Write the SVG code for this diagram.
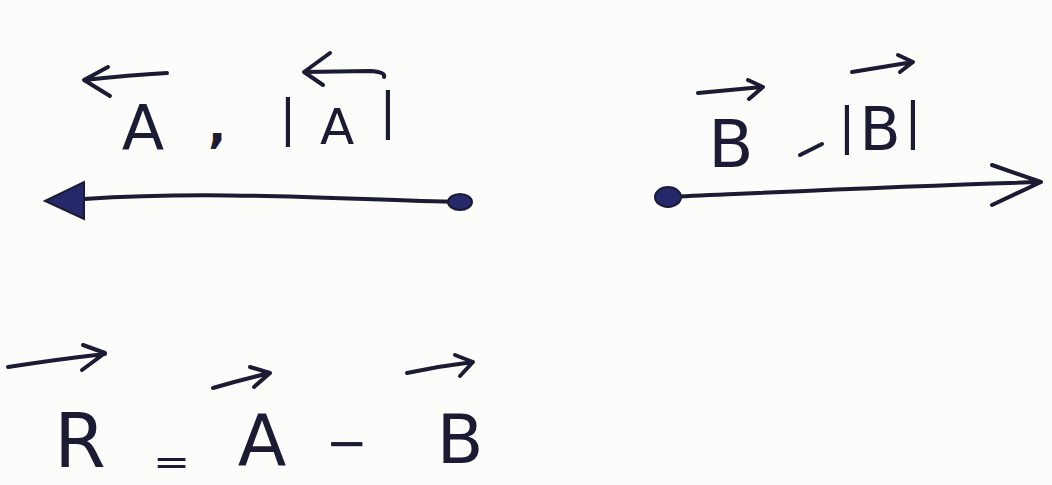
<svg xmlns="http://www.w3.org/2000/svg" width="1052" height="485" viewBox="0 0 1052 485">
<style>
.ink{fill:#1b1b33;font-family:"DejaVu Sans",sans-serif}
.st{fill:none;stroke:#1b1b33;stroke-width:4;stroke-linecap:round;stroke-linejoin:round}
.blue{fill:#26286a;stroke:#1b1b33;stroke-width:2}
</style>
<rect width="1052" height="485" fill="#fcfcfb"/>
<g id="vector-A">
  <path class="st" d="M167,73 Q130,75 84,80 M108,67 L84,80 L110,96"/>
  <text class="ink" x="143" y="150" font-size="62" text-anchor="middle">A</text>
  <text class="ink" x="217" y="142" font-size="48" font-weight="bold" text-anchor="middle">,</text>
  <text class="ink" font-size="50" text-anchor="middle"><tspan x="288" y="135">|</tspan><tspan x="337" y="144">A</tspan><tspan x="388" y="128">|</tspan></text>
  <path class="st" d="M384,77 Q386,72 370,71 L304,72 M330,53 L304,72 L323,85"/>
  <path class="st" d="M460,202 C350,200 220,190 84,199"/>
  <polygon class="blue" points="45,201 84,182 84,219"/>
  <ellipse class="blue" cx="460" cy="202" rx="12" ry="8"/>
</g>
<g id="vector-B">
  <path class="st" d="M698,93 L762,87 M748,80 L763,87 L749,99"/>
  <text class="ink" x="731" y="167" font-size="66" text-anchor="middle">B</text>
  <path class="st" d="M800,155 L822,144"/>
  <text class="ink" font-size="50" text-anchor="middle"><tspan x="847" y="143">|</tspan><tspan x="880" y="150" font-size="60">B</tspan><tspan x="913" y="138">|</tspan></text>
  <path class="st" d="M852,72 L913,62 M898,55 L913,62 L900,72"/>
  <path class="st" d="M668,197 C780,192 900,186 1041,182 M992,165 L1041,182 L992,205"/>
  <ellipse class="blue" cx="668" cy="197" rx="13" ry="10"/>
</g>
<g id="equation">
  <path class="st" d="M8,367 Q60,359 105,354 M83,345 L105,353 L82,370"/>
  <text class="ink" x="80" y="467" font-size="74" text-anchor="middle">R</text>
  <text class="ink" x="153" y="474" font-size="36" textLength="37" lengthAdjust="spacingAndGlyphs">=</text>
  <path class="st" d="M213,388 Q240,380 270,373 M250,367 L270,373 L254,387"/>
  <text class="ink" x="262" y="465" font-size="71" text-anchor="middle">A</text>
  <text class="ink" x="347" y="460" font-size="50" text-anchor="middle">−</text>
  <path class="st" d="M407,373 Q440,366 473,362 M455,355 L473,362 L460,376"/>
  <text class="ink" x="460" y="463" font-size="68" text-anchor="middle">B</text>
</g>
</svg>
